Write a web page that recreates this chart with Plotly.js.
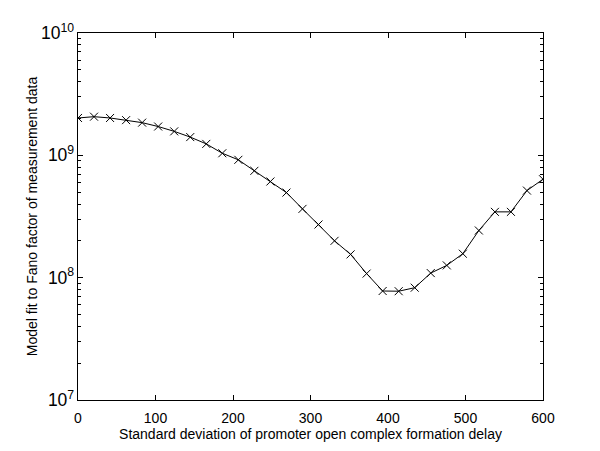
<!DOCTYPE html>
<html>
<head>
<meta charset="utf-8">
<script src="https://cdn.plot.ly/plotly-3.0.1.min.js"></script>
<style>html,body{margin:0;padding:0;background:#fff;}#chart{width:600px;height:451px;}</style>
</head>
<body>
<div id="chart"></div>
<script>
// Standard deviation values (30 evenly spaced points, 0..600)
const sdDelay = [0, 20.69, 41.38, 62.07, 82.76, 103.45, 124.14, 144.83, 165.52, 186.21,
  206.90, 227.59, 248.28, 268.97, 289.66, 310.34, 331.03, 351.72, 372.41, 393.10,
  413.79, 434.48, 455.17, 475.86, 496.55, 517.24, 537.93, 558.62, 579.31, 600];
// Model fit to Fano factor
const modelFit = [2.02e9, 2.07e9, 2.02e9, 1.94e9, 1.85e9, 1.72e9, 1.57e9, 1.41e9, 1.24e9, 1.04e9,
  9.19e8, 7.47e8, 6.11e8, 4.96e8, 3.65e8, 2.72e8, 2.0e8, 1.55e8, 1.08e8, 7.78e7,
  7.75e7, 8.28e7, 1.09e8, 1.26e8, 1.57e8, 2.43e8, 3.45e8, 3.45e8, 5.15e8, 6.38e8];
const xTicks = [0, 100, 200, 300, 400, 500, 600];
const xTitle = 'Standard deviation of promoter open complex formation delay';
const yTitle = 'Model fit to Fano factor of measurement data';

const trace = {
  x: sdDelay, y: modelFit, type: 'scatter', mode: 'lines+markers',
  line: {color: '#000', width: 1},
  marker: {symbol: 'x-thin', size: 8, line: {color: '#000', width: 1}, color: '#000'},
  hoverinfo: 'skip'
};
const font = {family: 'Liberation Sans, Arial, Helvetica, sans-serif', size: 14, color: '#000'};
const layout = {
  width: 600, height: 451,
  margin: {l: 78, r: 57, t: 33, b: 51},
  paper_bgcolor: '#fff', plot_bgcolor: '#fff',
  showlegend: false,
  font: font,
  xaxis: {
    range: [0, 600], tickvals: xTicks, ticktext: xTicks.map(String),
    ticks: 'inside', ticklen: 5, tickcolor: '#000', tickwidth: 1,
    ticklabelstandoff: 5,
    showline: true, linecolor: '#000', linewidth: 1, mirror: 'ticks',
    showgrid: false, zeroline: false,
    tickfont: font,
    title: {text: xTitle, font: font, standoff: 0}
  },
  yaxis: {
    type: 'log', range: [7, 10], dtick: 1, exponentformat: 'power',
    ticks: 'inside', ticklen: 5, tickcolor: '#000', tickwidth: 1,
    minor: {ticks: 'inside', ticklen: 3, tickcolor: '#000', tickwidth: 1, dtick: 'D1', showgrid: false},
    showline: true, linecolor: '#000', linewidth: 1, mirror: 'ticks',
    showgrid: false, zeroline: false,
    tickfont: font,
    title: {text: yTitle, font: font, standoff: 0}
  }
};
Plotly.newPlot('chart', [trace], layout, {staticPlot: true, displayModeBar: false});
</script>
</body>
</html>
